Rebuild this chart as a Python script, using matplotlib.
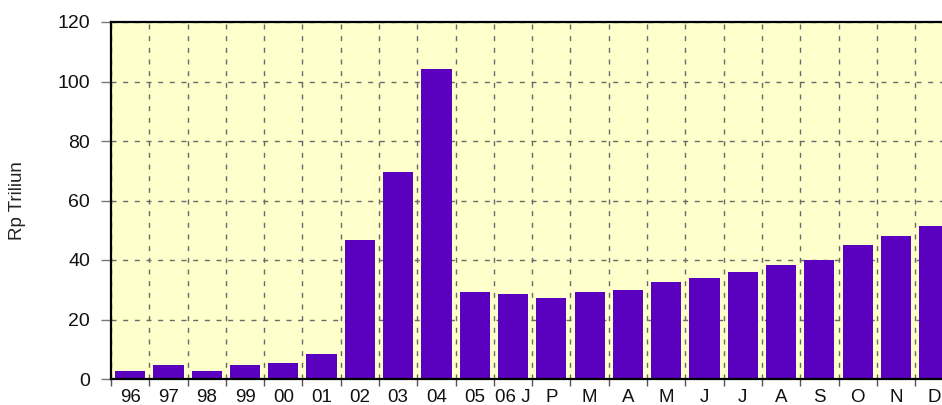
import matplotlib
matplotlib.use("Agg")
import matplotlib.pyplot as plt
import numpy as np
from matplotlib.ticker import FixedLocator, NullFormatter

plt.rcParams['font.family'] = ['Liberation Sans', 'DejaVu Sans']
plt.rcParams['lines.scale_dashes'] = False

categories = ['96', '97', '98', '99', '00', '01', '02', '03', '04', '05',
              '06 J', 'P', 'M', 'A', 'M', 'J', 'J', 'A', 'S', 'O', 'N', 'D']
values = [2.7, 4.8, 2.7, 4.7, 5.4, 8.3, 46.8, 69.6, 104.2, 29.3,
          28.6, 27.2, 29.3, 30.0, 32.6, 34.0, 36.0, 38.2, 40.1, 45.0, 48.1, 51.4]
y_ticks = [0, 20, 40, 60, 80, 100, 120]
y_label = 'Rp Triliun'

fig = plt.figure(figsize=(9.42, 4.05), dpi=100)
ax = fig.add_axes([111/942, 26/405, 1 - 111/942, (379-22)/405])
ax.set_facecolor('#FFFFCC')

x = np.arange(len(categories))
ax.bar(x, values, width=0.79, color='#5A00BE', zorder=3)

ax.set_xlim(-0.5, -0.5 + 831/38.29)
ax.set_ylim(0, 120)

# boundaries as major ticks (grid), centers as minor ticks (labels)
bounds = np.arange(len(categories) + 1) - 0.5
ax.xaxis.set_major_locator(FixedLocator(bounds))
ax.xaxis.set_major_formatter(NullFormatter())
ax.xaxis.set_minor_locator(FixedLocator(x))
ax.set_xticklabels(categories, minor=True)
ax.tick_params(axis='x', which='minor', length=0, labelsize=13.5, pad=7, colors='#111111')
ax.tick_params(axis='x', which='major', length=5, width=1, color='#555555', direction='out')

ax.set_yticks(y_ticks)
ax.tick_params(axis='y', length=7, width=1, color='#777777', labelsize=14, pad=8, labelcolor='#111111')

ax.grid(True, which='major', color='#6a6a6a', linestyle=(0, (3.6, 4.8)), linewidth=1.0, zorder=1)

for s in ['left', 'bottom', 'top']:
    ax.spines[s].set_color('black')
    ax.spines[s].set_linewidth(1.6)
    ax.spines[s].set_zorder(4)
ax.spines['right'].set_visible(False)

ax.set_ylabel(y_label, fontsize=13.5, color='#222222')
ax.yaxis.set_label_coords((26 - 111) / 831, 0.5)

fig.savefig('out.png', dpi=100)
